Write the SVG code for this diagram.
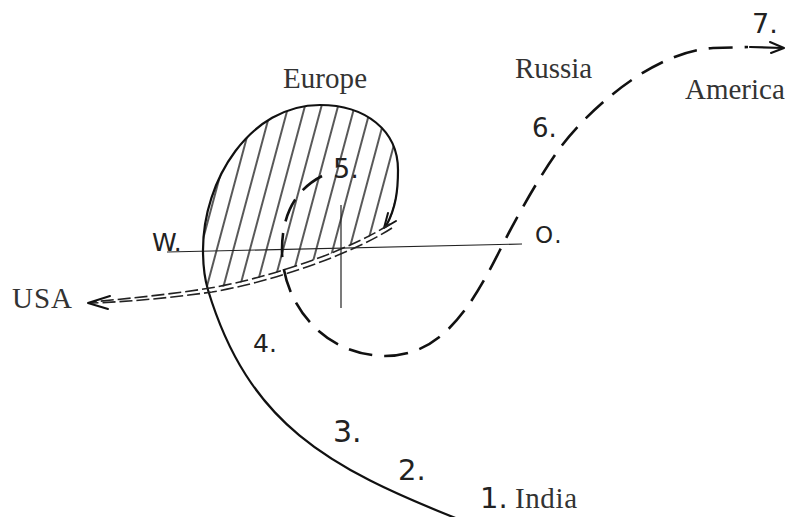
<svg xmlns="http://www.w3.org/2000/svg" width="785" height="517" viewBox="0 0 785 517">
<style>
.serif{font-family:"Liberation Serif","Times New Roman",serif;font-size:29px;fill:#333}
.hand{font-family:"DejaVu Sans","Liberation Sans",sans-serif;fill:#222}
.solid{fill:none;stroke:#111;stroke-width:2.2;stroke-linecap:round}
.dash{fill:none;stroke:#111;stroke-width:2.6;stroke-dasharray:24 12}
.ddash{fill:none;stroke:#222;stroke-width:1.6;stroke-dasharray:13 4}
.thin{fill:none;stroke:#222;stroke-width:1.2}
.head{fill:none;stroke:#111;stroke-width:2;stroke-linejoin:round;stroke-linecap:round}
</style>
<defs>
<pattern id="hatch" width="16" height="20" patternUnits="userSpaceOnUse" patternTransform="rotate(15)">
<line x1="2" y1="0" x2="2" y2="20" stroke="#111" stroke-width="1.4"/>
</pattern>
<clipPath id="loopClip">
<path d="M208,290 C204.4,278 203,262 203,250 C203,180 250,105 320,105 C365,105 398,130 398,170 C398,195 395,215 385,228 C350,250 270,278 208,290 Z"/>
</clipPath>
</defs>
<rect width="785" height="517" fill="#fff"/>
<g id="hatching">
<rect x="190" y="95" width="220" height="210" fill="url(#hatch)" clip-path="url(#loopClip)"/>
</g>
<g id="axes">
<line class="thin" x1="167" y1="252" x2="522" y2="244"/>
<line class="thin" x1="341" y1="205" x2="341" y2="308"/>
</g>
<g id="connectors">
<path id="route-india-europe" class="solid" d="M458,519 C327.7,467.5 248.6,423.9 208,290 C204.4,278 203,262 203,250 C203,180 250,105 320,105 C365,105 398,130 398,170 C398,190 396,208 386,226"/>
<path class="head" d="M388,213 L384,228 L396,221"/>
<path id="route-usa-a" class="ddash" d="M390,224 C350,250 270,278 210,288 C160,296 120,299 92,302"/>
<path id="route-usa-b" class="ddash" d="M392,228 C352,254 272,282 212,292 C162,299 122,302 92,303"/>
<path class="head" d="M110,296 L88,303 L108,309"/>
<path id="route-russia-america" class="dash" d="M322,176 C295,190 282,215 282,250 C282,300 320,355 385,356 C440,356 470,310 500,250 C515,220 540,175 560,148 C585,114 650,52 713,48 L748,47"/>
<path class="solid" d="M750,47 L783,48"/>
<path class="head" d="M770,42 L784,48 L771,53"/>
</g>
<g id="labels">
<text class="serif" x="283" y="88" textLength="84">Europe</text>
<text class="serif" x="515" y="78" textLength="77">Russia</text>
<text class="serif" x="685" y="99">America</text>
<text class="serif" x="12" y="308" textLength="60">USA</text>
<text class="serif" x="515" y="508" textLength="62">India</text>
</g>
<g id="numbers">
<text class="hand" x="480" y="508" font-size="29">1.</text>
<text class="hand" x="398" y="480" font-size="29">2.</text>
<text class="hand" x="333" y="442" font-size="30">3.</text>
<text class="hand" x="253" y="352" font-size="25">4.</text>
<text class="hand" x="333" y="178" font-size="27">5.</text>
<text class="hand" x="532" y="137" font-size="26">6.</text>
<text class="hand" x="752" y="33" font-size="27">7.</text>
<text class="hand" x="535" y="243" font-size="23" letter-spacing="2">O.</text>
<text class="hand" x="152" y="251" font-size="25">W.</text>
</g>
</svg>
